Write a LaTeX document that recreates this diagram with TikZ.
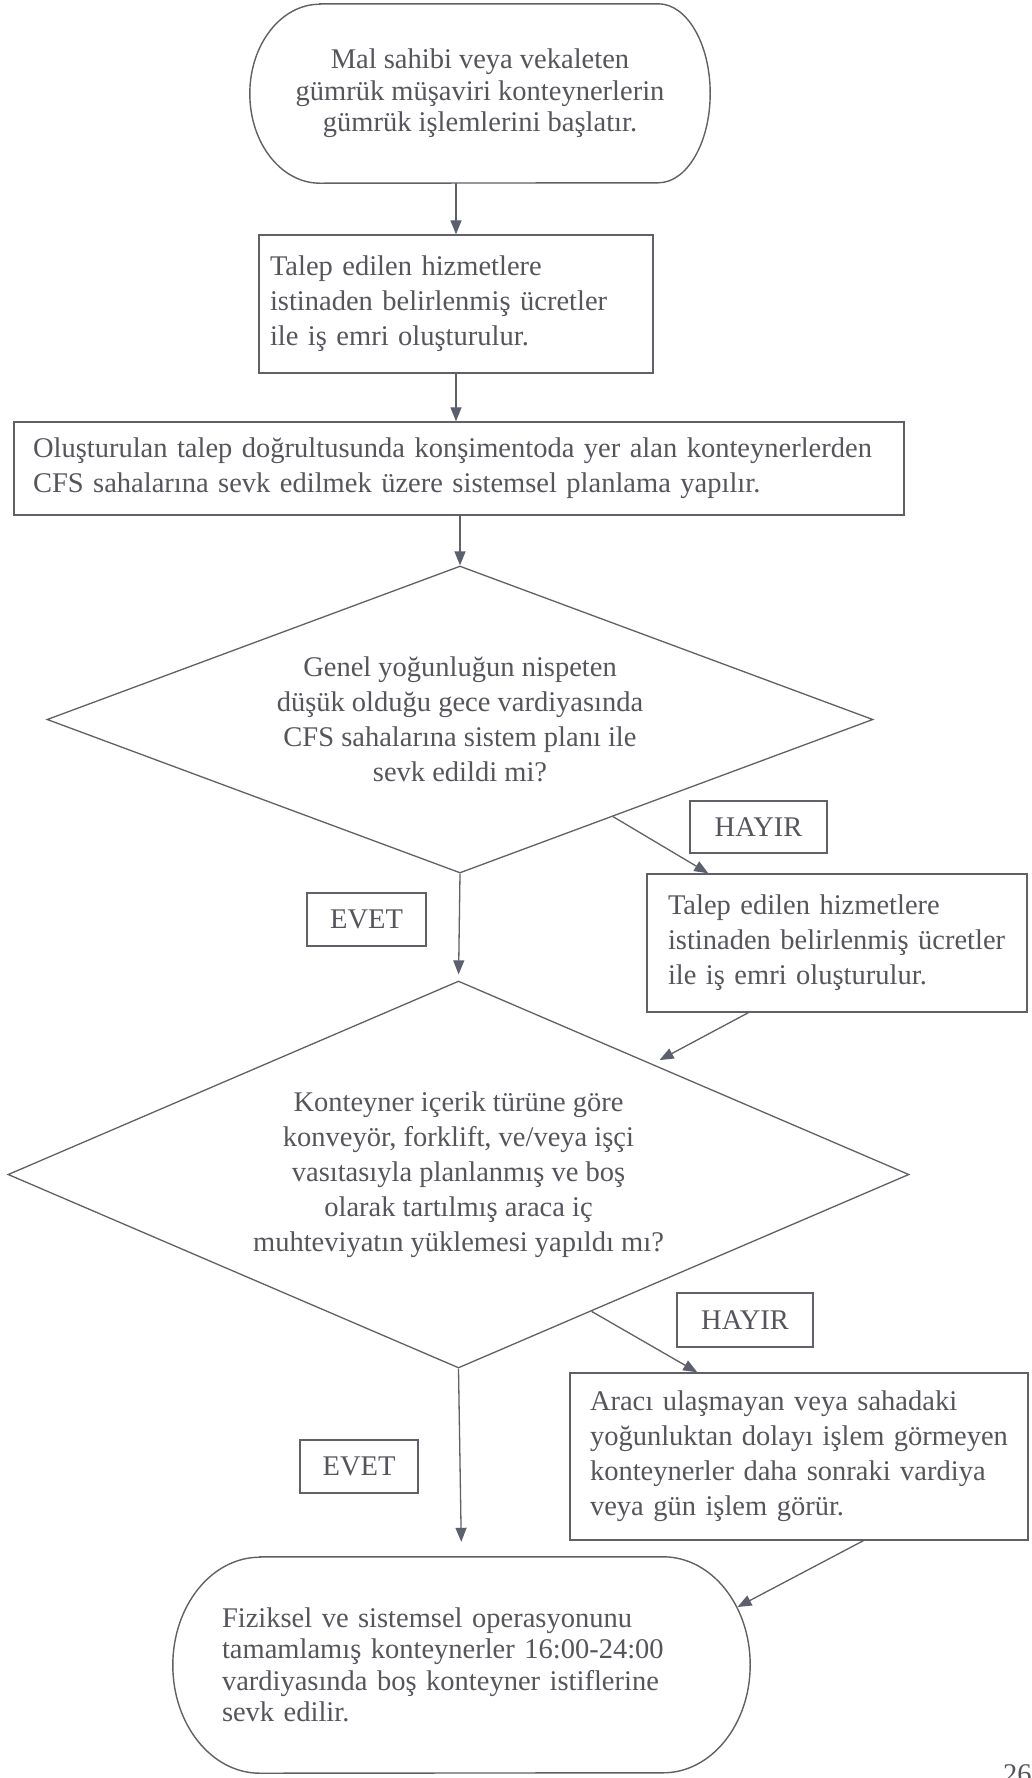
\documentclass[tikz,border=0pt]{standalone}
\usepackage{fontspec}
\setmainfont{Liberation Serif}
\usetikzlibrary{shapes.geometric,arrows.meta,calc}

\definecolor{ink}{RGB}{85,85,92}
\definecolor{rule}{RGB}{96,96,102}
\definecolor{tipcol}{RGB}{92,95,110}

\tikzset{
  txt/.style={font=\fontsize{28.5pt}{35pt}\selectfont, text=ink, inner sep=0pt},
  box/.style={txt, draw=rule, line width=1.4pt, rectangle, align=left},
  lbl/.style={txt, draw=rule, line width=1.3pt, rectangle, align=center},
  decision/.style={txt, draw=rule, line width=1.3pt, diamond, align=center},
  term/.style={txt, font=\fontsize{28.5pt}{31.5pt}\selectfont, rectangle},
  outline/.style={draw=rule, line width=1.4pt},
  flow/.style={draw=rule, line width=1.3pt, -{Triangle[length=14pt,width=11pt,color=tipcol]}},
}

\begin{document}
\begin{tikzpicture}[x=1pt,y=1pt]
\useasboundingbox (0,0) rectangle (1031,-1778);
\fill[white] (0,0) rectangle (1031,-1778);

% start terminator
\node[term, minimum width=460pt, minimum height=179pt, align=center] (t1) at (480,-93.5)
  {Mal sahibi veya vekaleten\\gümrük müşaviri konteynerlerin\\gümrük işlemlerini başlatır.};
\draw[outline] ([xshift=70pt]t1.north west) -- ([xshift=-52pt]t1.north east)
  arc[start angle=90, end angle=-90, x radius=52pt, y radius=89.5pt]
  -- ([xshift=70pt]t1.south west)
  arc[start angle=270, end angle=90, x radius=70pt, y radius=89.5pt] -- cycle;

% process steps
\node[box, minimum width=394pt, minimum height=138pt, text width=372pt] (b2) at (456,-304)
  {Talep edilen hizmetlere\\istinaden belirlenmiş ücretler\\ile iş emri oluşturulur.};
\node[box, minimum width=890pt, minimum height=93pt, text width=852pt] (b3) at (459,-468.5)
  {Oluşturulan talep doğrultusunda konşimentoda yer alan konteynerlerden\\CFS sahalarına sevk edilmek üzere sistemsel planlama yapılır.};

% first decision
\node[decision, minimum width=826pt, minimum height=307pt, aspect=2.69] (d1) at (460,-719.5)
  {Genel yoğunluğun nispeten\\düşük olduğu gece vardiyasında\\CFS sahalarına sistem planı ile\\sevk edildi mi?};
\node[lbl, minimum width=137pt, minimum height=52pt] (h1) at (758.5,-827) {HAYIR};
\node[lbl, minimum width=119pt, minimum height=53pt] (e1) at (366.5,-919.5) {EVET};
\node[box, minimum width=380pt, minimum height=138pt, text width=338pt] (b4) at (837,-943)
  {Talep edilen hizmetlere\\istinaden belirlenmiş ücretler\\ile iş emri oluşturulur.};

% second decision
\node[decision, minimum width=901pt, minimum height=387pt, aspect=2.33] (d2) at (458.5,-1174.5)
  {Konteyner içerik türüne göre\\konveyör, forklift, ve/veya işçi\\vasıtasıyla planlanmış ve boş\\olarak tartılmış araca iç\\muhteviyatın yüklemesi yapıldı mı?};
\node[lbl, minimum width=136pt, minimum height=54pt] (h2) at (745,-1320) {HAYIR};
\node[lbl, minimum width=118pt, minimum height=53pt] (e2) at (359,-1466.5) {EVET};
\node[box, minimum width=458pt, minimum height=167pt, text width=418pt] (b5) at (799,-1456.5)
  {Aracı ulaşmayan veya sahadaki\\yoğunluktan dolayı işlem görmeyen\\konteynerler daha sonraki vardiya\\veya gün işlem görür.};

% end terminator
\node[term, minimum width=577pt, minimum height=216pt, text width=479pt, align=left] (t2) at (461.5,-1665)
  {Fiziksel ve sistemsel operasyonunu\\tamamlamış konteynerler 16:00-24:00\\vardiyasında boş konteyner istiflerine\\sevk edilir.};
\draw[outline] ([xshift=87pt]t2.north west) -- ([xshift=-87pt]t2.north east)
  arc[start angle=90, end angle=-90, x radius=87pt, y radius=108pt]
  -- ([xshift=87pt]t2.south west)
  arc[start angle=270, end angle=90, x radius=87pt, y radius=108pt] -- cycle;

% page number
\node[txt, anchor=base west] (pg) at (1003,-1783) {26};

% connectors
\draw[flow] (b2.north |- t1.south) -- (b2.north);
\draw[flow] (b2.south) -- (b2.south |- b3.north);
\draw[flow] (d1.north |- b3.south) -- (d1.north);
\draw[flow, shorten >=6pt] (d1.south) -- (d2.north);
\draw[flow] ($(d1.east)!0.63!(d1.south)$) -- ([xshift=62pt]b4.north west);
\draw[flow, shorten >=8pt] ([xshift=102pt]b4.south west) -- ($(d2.north)!0.43!(d2.east)$);
\draw[flow] ($(d2.east)!0.705!(d2.south)$) -- ([xshift=128pt]b5.north west);
\draw[flow, shorten >=15pt] (d2.south) -- (t2.north);
\draw[flow] ([xshift=294pt]b5.south west) -- ([xshift=276pt,yshift=58pt]t2.center);
\end{tikzpicture}
\end{document}
